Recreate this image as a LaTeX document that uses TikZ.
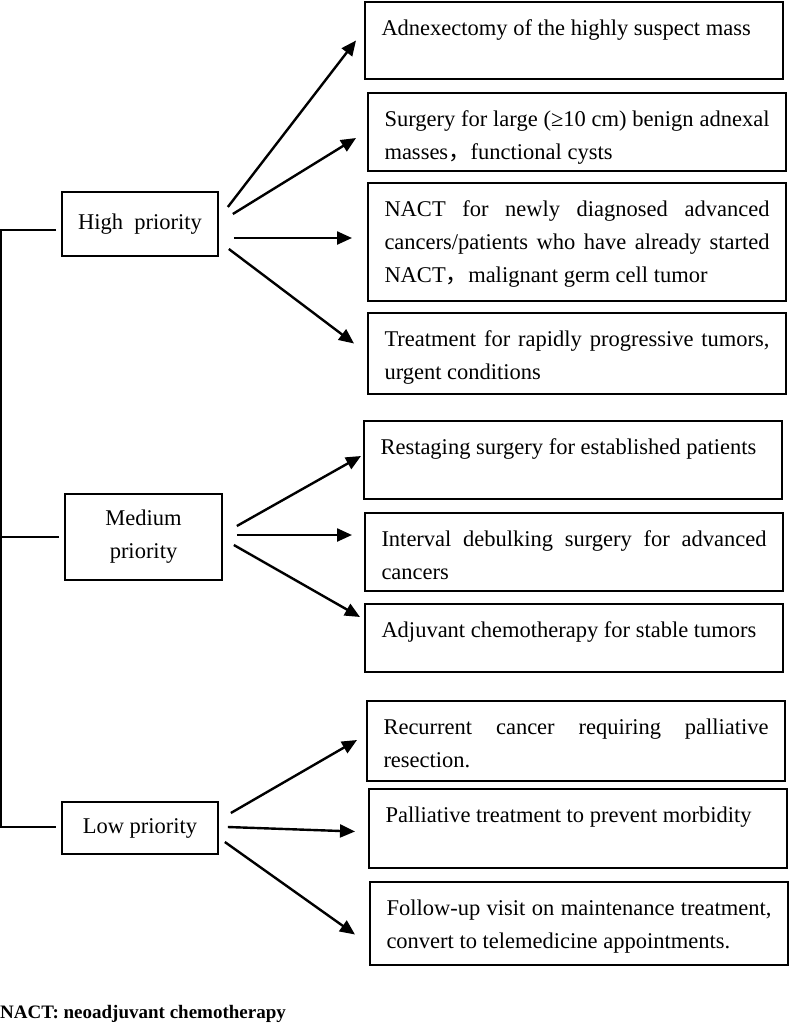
\documentclass[tikz,border=0pt]{standalone}
\usepackage{fontspec}
\setmainfont{Liberation Serif}
\newfontfamily\cjk{Noto Sans CJK SC}
\usetikzlibrary{arrows.meta}
\hbadness=10000
\newcommand{\plantext}[2]{\parbox[c][#1][t]{385pt}{\rule{0pt}{33pt}#2}}

\begin{document}
\begin{tikzpicture}[x=1pt,y=-1pt,
	plan/.style={draw, line width=2pt, anchor=north west, inner xsep=16.5pt, inner ysep=0pt, font=\fontsize{22.5}{33}\selectfont},
	level/.style={draw, line width=1.7pt, align=center, inner sep=0pt, font=\fontsize{22.5}{33}\selectfont},
	arr/.style={line width=2.4pt, -{Triangle[length=15pt,width=13pt]}},
	bus/.style={line width=1.6pt}]
				\useasboundingbox (0,0) rectangle (788,1026);
				\node[level, minimum width=156pt, minimum height=64pt] (high) at (140,224) {High~ priority};
				\node[level, minimum width=157pt, minimum height=86pt] (medium) at (143.5,537) {Medium\\priority};
				\node[level, minimum width=156pt, minimum height=52pt] (low) at (140,828) {Low priority};
				\node[plan] (adnex) at (364,1) {\plantext{77pt}{Adnexectomy of the highly suspect mass}};
				\node[plan] (large) at (367,92) {\plantext{78pt}{Surgery for large (≥10 cm) benign adnexal\linebreak masses{\cjk ，}functional cysts}};
				\node[plan] (nact) at (367,182) {\plantext{118pt}{NACT for newly diagnosed advanced\linebreak cancers/patients who have already started\linebreak NACT{\cjk ，}malignant germ cell tumor}};
				\node[plan] (rapid) at (367,312) {\plantext{81pt}{Treatment for rapidly progressive tumors,\linebreak urgent conditions}};
				\node[plan] (restage) at (363,420) {\plantext{78pt}{Restaging surgery for established patients}};
				\node[plan] (interval) at (364,512) {\plantext{78pt}{Interval debulking surgery for advanced\linebreak cancers}};
				\node[plan] (adjuvant) at (364,603) {\plantext{68pt}{Adjuvant chemotherapy for stable tumors}};
				\node[plan] (recur) at (366,700) {\plantext{80pt}{Recurrent cancer requiring palliative\linebreak resection.}};
				\node[plan] (palli) at (368,788) {\plantext{79pt}{Palliative treatment to prevent morbidity}};
				\node[plan] (follow) at (369,881) {\plantext{83pt}{Follow-up visit on maintenance treatment,\linebreak convert to telemedicine appointments.}};
				\node[anchor=base west, inner sep=0pt, font=\bfseries\fontsize{19}{22}\selectfont] (note) at (0,1018) {NACT: neoadjuvant chemotherapy};
				\draw[bus] ([shift={(-5,6)}]high.west) -- ++(-55,0) |- ([shift={(-5,-1)}]low.west);
				\draw[bus] ([xshift=-5]medium.west) -- ++(-57,0);
				\draw[arr] ([shift={(9,-17)}]high.east) -- ([shift={(-8,0)}]adnex.west);
				\draw[arr] ([shift={(14,-10)}]high.east) -- ([shift={(-11,6)}]large.west);
				\draw[arr] ([shift={(15,14)}]high.east) -- ([shift={(-15,-4)}]nact.west);
				\draw[arr] ([shift={(10,25)}]high.east) -- ([shift={(-13,-10)}]rapid.west);
				\draw[arr] ([shift={(14,-11)}]medium.east) -- ([shift={(-2,-4)}]restage.west);
				\draw[arr] ([shift={(14,-2)}]medium.east) -- ([shift={(-12,-17)}]interval.west);
				\draw[arr] ([shift={(11,8)}]medium.east) -- ([shift={(-4,-21)}]adjuvant.west);
				\draw[arr] ([shift={(12,-15)}]low.east) -- ([shift={(-9,-1)}]recur.west);
				\draw[arr] ([shift={(9,-1)}]low.east) -- ([shift={(-13,3)}]palli.west);
				\draw[arr] ([shift={(6,14)}]low.east) -- ([shift={(-14,11)}]follow.west);
			\end{tikzpicture}
\end{document}
